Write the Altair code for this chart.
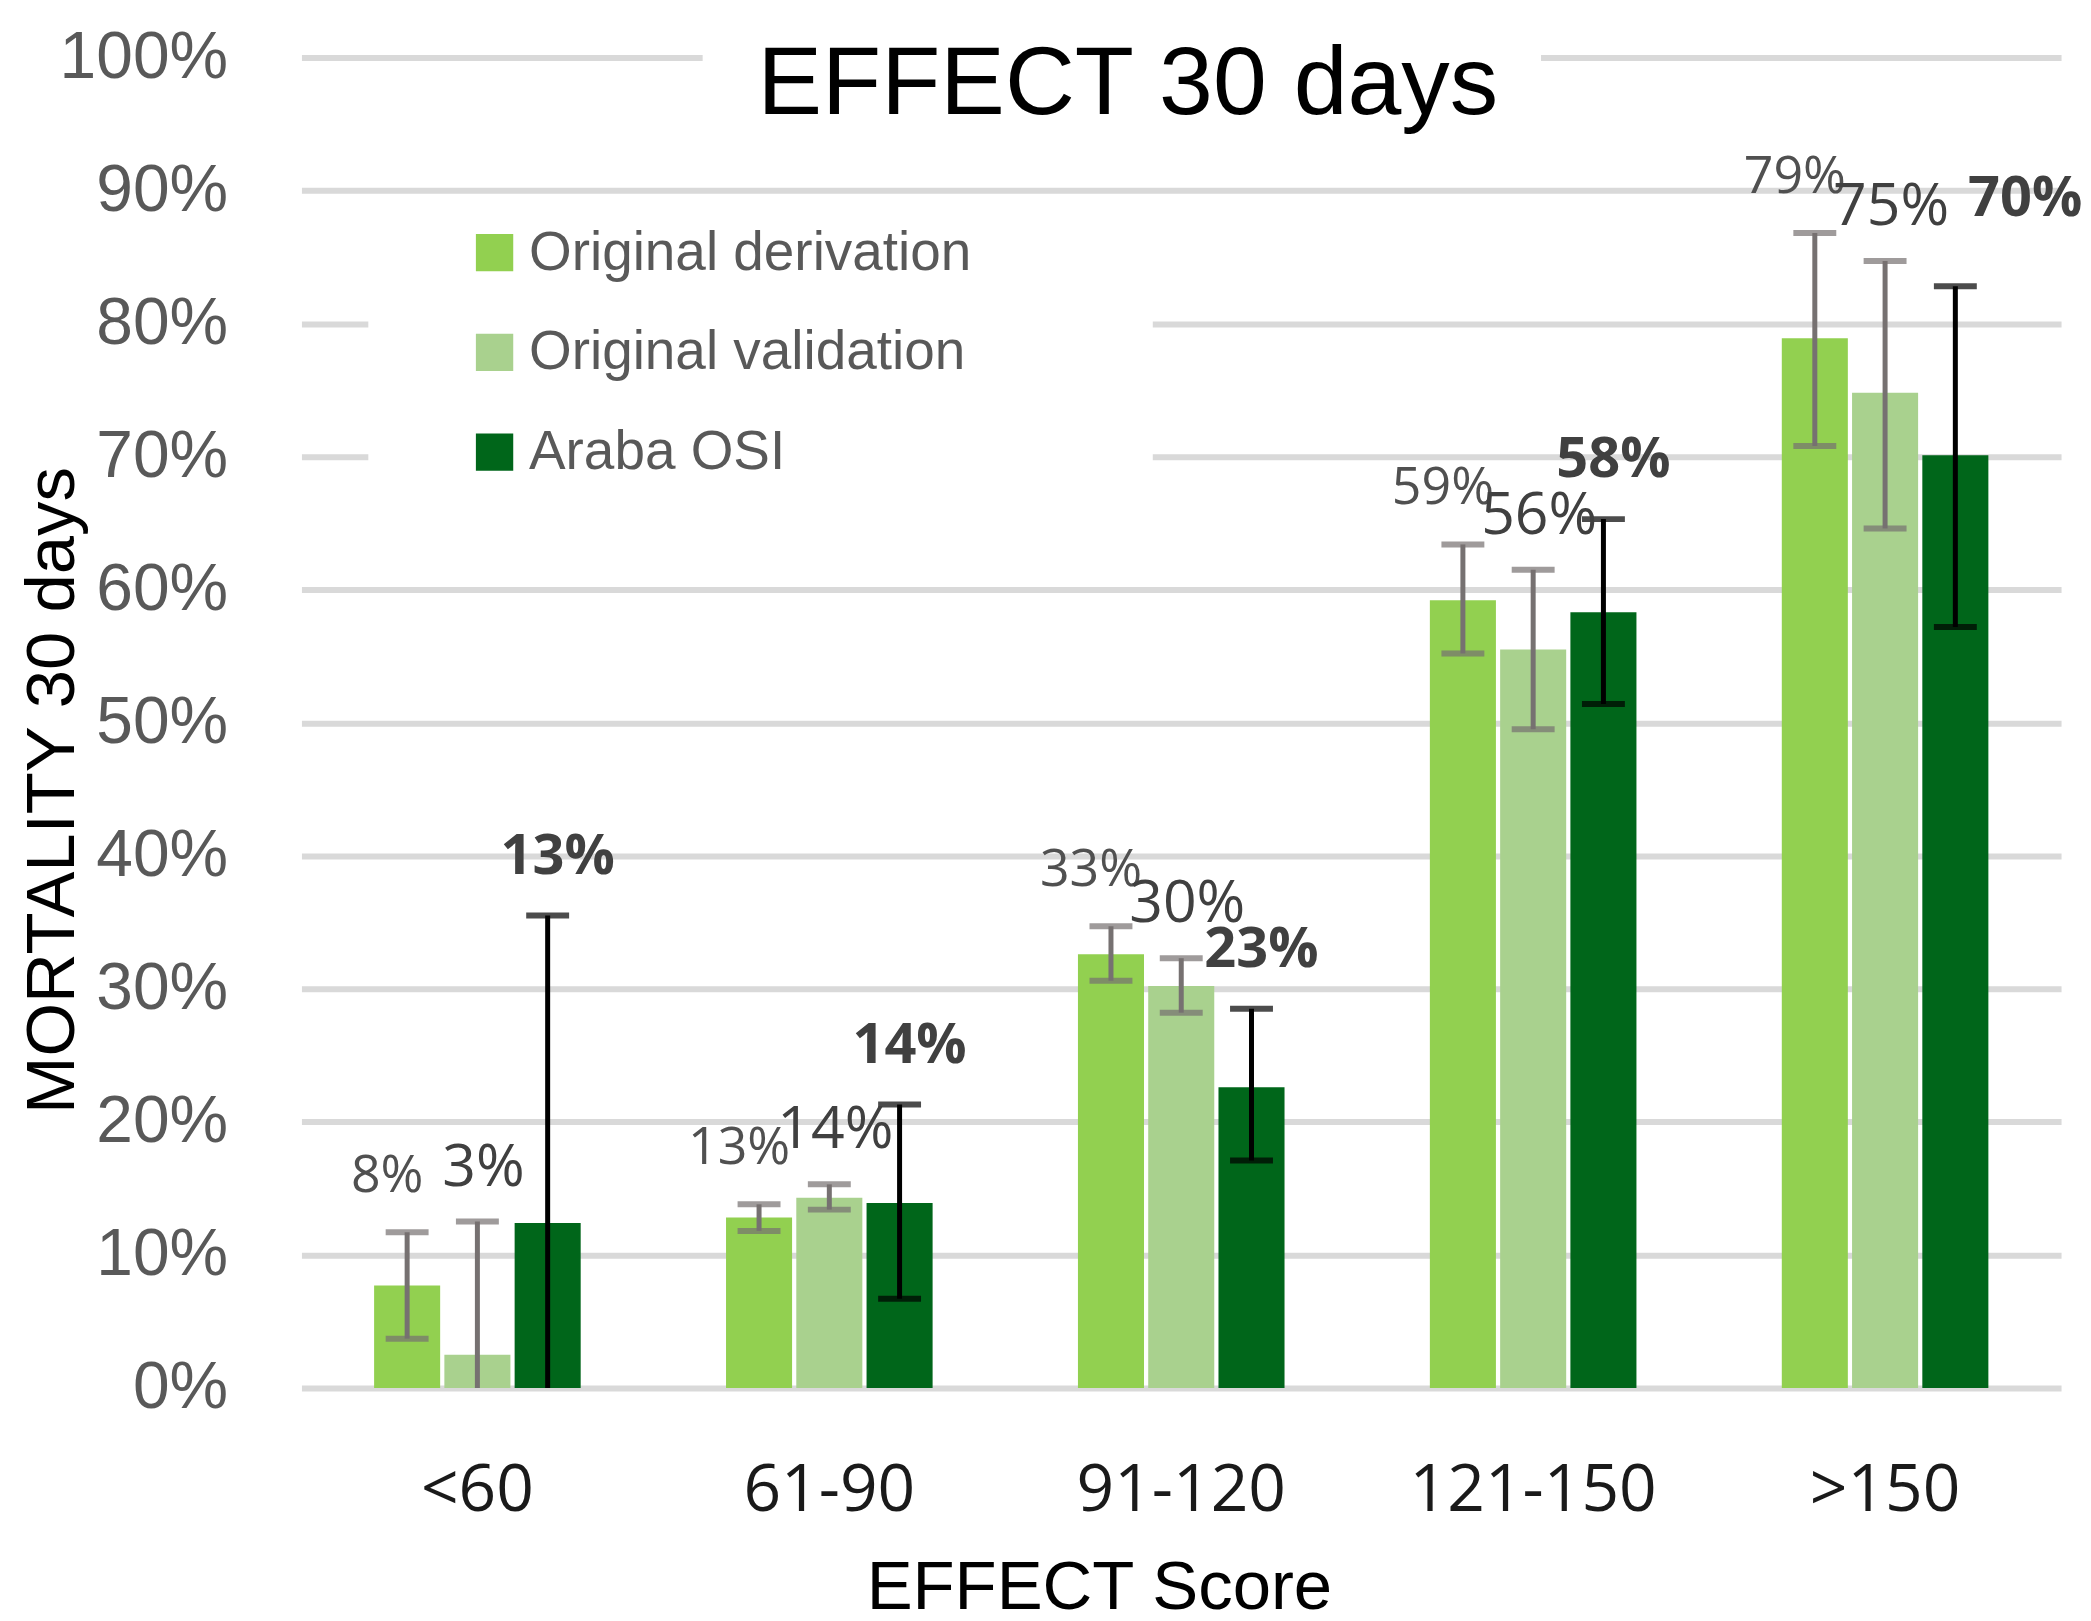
import pandas as pd
import altair as alt

# plot area size (pixels)
W, H = 1763, 1333

groups = ["<60", "61-90", "91-120", "121-150", ">150"]
series = ["Original derivation", "Original validation", "Araba OSI"]
colors = ["#92D050", "#A9D18E", "#00661A"]

deriv_val = [0.077, 0.128, 0.326, 0.592, 0.789]
deriv_lo = [0.037, 0.118, 0.306, 0.552, 0.708]
deriv_hi = [0.117, 0.138, 0.347, 0.634, 0.868]
deriv_lab = ["8%", "13%", "33%", "59%", "79%"]

valid_val = [0.025, 0.143, 0.302, 0.555, 0.748]
valid_lo = [0.0, 0.134, 0.282, 0.495, 0.646]
valid_hi = [0.125, 0.153, 0.323, 0.615, 0.847]
valid_lab = ["3%", "14%", "30%", "56%", "75%"]

araba_val = [0.124, 0.139, 0.226, 0.583, 0.701]
araba_lo = [0.0, 0.067, 0.171, 0.514, 0.572]
araba_hi = [0.355, 0.213, 0.285, 0.653, 0.828]
araba_lab = ["13%", "14%", "23%", "58%", "70%"]

y_ticks = [0, 0.1, 0.2, 0.3, 0.4, 0.5, 0.6, 0.7, 0.8, 0.9, 1.0]

frames = []
for name, v, lo, hi, lab in [
    (series[0], deriv_val, deriv_lo, deriv_hi, deriv_lab),
    (series[1], valid_val, valid_lo, valid_hi, valid_lab),
    (series[2], araba_val, araba_lo, araba_hi, araba_lab),
]:
    frames.append(pd.DataFrame({"group": groups, "series": name, "value": v,
                                "lo": lo, "hi": hi, "label": lab}))
data = pd.concat(frames, ignore_index=True)
one = pd.DataFrame({"k": [0]})

ytitle = "MORTALITY 30 days"

x_enc = alt.X("group:N", sort=groups,
              scale=alt.Scale(paddingInner=0.413, paddingOuter=0.2065),
              axis=alt.Axis(title="EFFECT Score", labelAngle=0, ticks=False, domain=False,
                            grid=False, labelFont="Open Sans", labelFontSize=66,
                            labelColor="#1a1a1a", labelPadding=71, labelLimit=1000,
                            titleFont="Liberation Sans", titleFontSize=69,
                            titleFontWeight="normal", titleColor="black",
                            titlePadding=30, titleX=799))
xo_enc = alt.XOffset("series:N", sort=series,
                     scale=alt.Scale(paddingInner=0.06, paddingOuter=0))

base = alt.Chart(data)

bars = base.mark_bar().encode(
    x=x_enc,
    xOffset=xo_enc,
    y=alt.Y("value:Q", title=ytitle, scale=alt.Scale(domain=[0, 1]),
            axis=alt.Axis(format="%", values=y_ticks, ticks=False, domain=False,
                          labelFont="Liberation Sans", labelFontSize=66,
                          labelColor="#595959", labelPadding=74,
                          gridColor="#D9D9D9", gridWidth=6,
                          titleFont="Liberation Sans", titleFontSize=69,
                          titleFontWeight="normal", titleColor="black",
                          titleAngle=270, titleBaseline="alphabetic",
                          titleX=-228, titleY=734)),
    color=alt.Color("series:N", sort=series,
                    scale=alt.Scale(domain=series, range=colors),
                    legend=alt.Legend(title=None, orient="none", legendX=166, legendY=168,
                                      direction="vertical", symbolType="square",
                                      symbolSize=1400, symbolStrokeWidth=0,
                                      labelFont="Liberation Sans", labelFontSize=55,
                                      labelColor="#595959", labelOffset=7,
                                      labelLimit=1000, rowPadding=44, padding=0)),
)

err_color = alt.condition(alt.datum.series == "Araba OSI", alt.value("black"), alt.value("#767171"))

err_line = base.mark_rule(strokeWidth=5).encode(
    x=x_enc, xOffset=xo_enc,
    y=alt.Y("lo:Q", title=ytitle), y2="hi:Q",
    color=err_color,
)
cap_hi = base.mark_tick(size=43, thickness=6).encode(
    x=x_enc, xOffset=xo_enc, y=alt.Y("hi:Q", title=ytitle), color=err_color,
)
cap_lo = base.transform_filter(alt.datum.lo > 0).mark_tick(size=43, thickness=6).encode(
    x=x_enc, xOffset=xo_enc, y=alt.Y("lo:Q", title=ytitle), color=err_color,
)

def labels(cond, size, weight, color, dx, dy):
    return base.transform_filter(cond).mark_text(
        font="Open Sans", fontSize=size, fontWeight=weight, color=color,
        align="center", baseline="alphabetic", dx=dx, dy=dy,
    ).encode(x=x_enc, xOffset=xo_enc, y=alt.Y("hi:Q", title=ytitle), text="label:N")

is_d = alt.datum.series == series[0]
is_v = alt.datum.series == series[1]
is_a = alt.datum.series == series[2]
last = alt.datum.group == groups[-1]

lab_d = labels(is_d, 52, "normal", "#505050", -20, -40)
lab_v = labels(is_v, 59, "normal", "#404040", 6, -36)
lab_a = labels(is_a & ~last, 56, "bold", "#404040", 10, -42)
# the last Araba label sits right of its bar, as in the source figure
lab_a_last = labels(is_a & last, 56, "bold", "#404040", 70, -70)

# white panels behind the title and the legend (hide the gridlines there)
title_bg = alt.Chart(one).mark_rect(color="white").encode(
    x=alt.value(402), x2=alt.value(1242), y=alt.value(-20), y2=alt.value(40))
legend_bg = alt.Chart(one).mark_rect(color="white").encode(
    x=alt.value(67), x2=alt.value(853), y=alt.value(150), y2=alt.value(480))
title_txt = alt.Chart(one).mark_text(
    text="EFFECT 30 days", font="Liberation Sans", fontSize=97, color="black",
    align="center", baseline="alphabetic").encode(x=alt.value(828), y=alt.value(57))

chart = alt.layer(
    title_bg, legend_bg, bars, err_line, cap_hi, cap_lo,
    lab_d, lab_v, lab_a, lab_a_last, title_txt
).properties(
    width=W, height=H,
    padding={"left": 11, "top": 15, "right": 0, "bottom": 0},
    background="white",
).configure_view(strokeWidth=0)

chart.save("out.html", embed_options={"renderer": "svg", "actions": False})
